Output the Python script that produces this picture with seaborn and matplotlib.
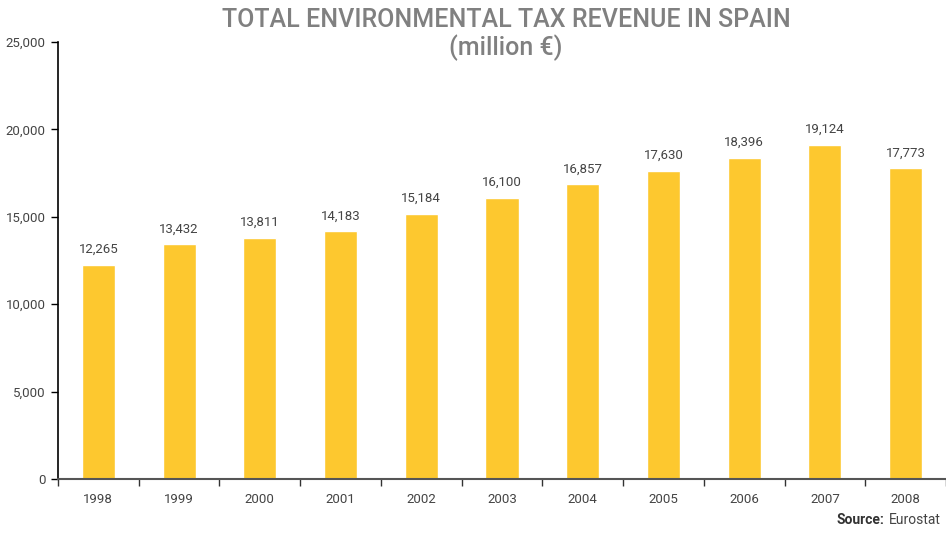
import matplotlib
matplotlib.use("Agg")
import matplotlib.pyplot as plt
import seaborn as sns
import pandas as pd
import numpy as np

years = ["1998", "1999", "2000", "2001", "2002", "2003", "2004", "2005", "2006", "2007", "2008"]
revenue = [12265, 13432, 13811, 14183, 15184, 16100, 16857, 17630, 18396, 19124, 17773]
yticks = [0, 5000, 10000, 15000, 20000, 25000]

sns.set_theme(style="white")
plt.rcParams['font.family'] = ['Roboto', 'DejaVu Sans']

df = pd.DataFrame({"year": years, "revenue": revenue})

fig = plt.figure(figsize=(9.46, 5.33), dpi=100)
ax = fig.add_axes([0.0613, 0.1013, 0.9387, 0.8197])
sns.barplot(data=df, x="year", y="revenue", color="#FDC82F", width=0.41,
            saturation=1, ax=ax)

ax.set_xlim(-0.5, len(years) - 0.5)
ax.set_ylim(0, 25000)
ax.set_yticks(yticks)
ax.set_yticklabels([f"{v:,}" for v in yticks])
ax.set_xlabel("")
ax.set_ylabel("")

for i, v in enumerate(revenue):
    ax.text(i, v + 500, f"{v:,}", ha="center", va="bottom", fontsize=9.5, color="#444444")

for s in ["top", "right"]:
    ax.spines[s].set_visible(False)
ax.spines["left"].set_color("black")
ax.spines["left"].set_linewidth(1.2)
ax.spines["bottom"].set_color("#555555")
ax.spines["bottom"].set_linewidth(1.5)

ax.tick_params(axis="y", left=True, length=5, width=1, color="black", labelsize=9.5,
               labelcolor="#444444", pad=4)
ax.tick_params(axis="x", bottom=False, labelsize=9.5, labelcolor="#444444", pad=4)
ax.set_xticks(np.arange(-0.5, len(years), 1.0), minor=True)
ax.tick_params(axis="x", which="minor", bottom=True, length=5, width=1, color="#333333",
               direction="out")

fig.text(0.535, 0.962, "TOTAL ENVIRONMENTAL TAX REVENUE IN SPAIN", ha="center", va="center",
         fontsize=18, color="#808080", fontweight="medium")
fig.text(0.535, 0.91, "(million €)", ha="center", va="center",
         fontsize=18, color="#808080", fontweight="medium")

t2 = fig.text(0.994, 0.012, "Eurostat", ha="right", va="bottom", fontsize=10, color="#444444")
fig.canvas.draw()
bb = t2.get_window_extent()
x_left = bb.x0 / fig.bbox.width
fig.text(x_left - 0.004, 0.012, "Source:", ha="right", va="bottom", fontsize=10, color="#333333",
         fontweight="bold")

fig.savefig("out.png", dpi=100)
